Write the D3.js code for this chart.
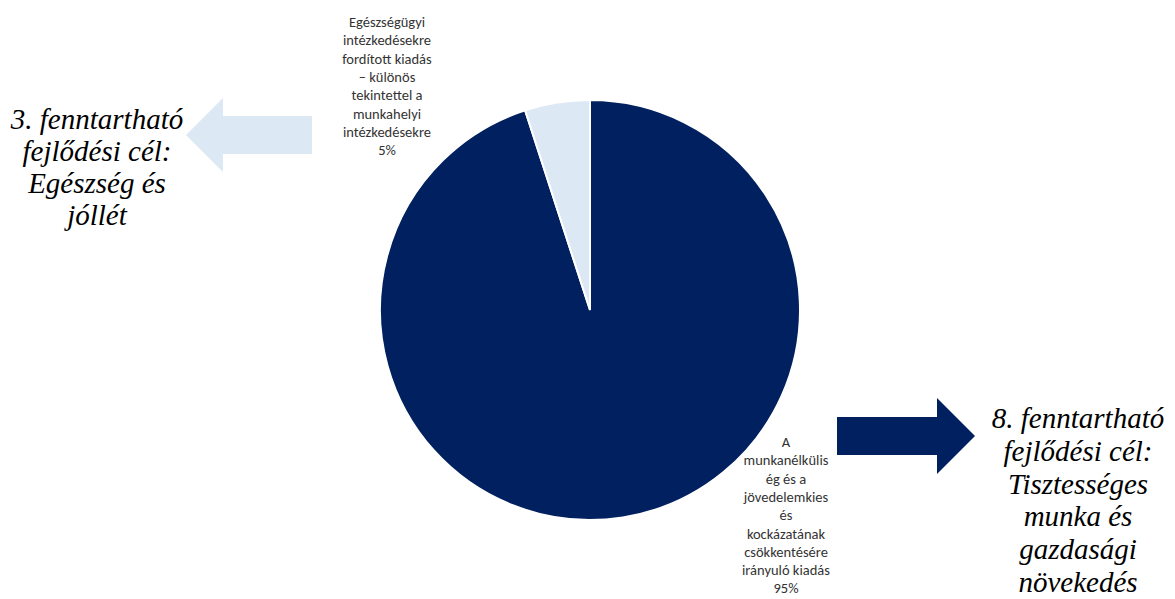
<!DOCTYPE html>
<html>
<head>
<meta charset="utf-8">
<script src="https://cdn.jsdelivr.net/npm/d3@7"></script>
<style>
  html, body { margin: 0; padding: 0; background: #ffffff; }
  svg { display: block; }
</style>
</head>
<body>
<svg id="chart" width="1175" height="599"></svg>
<script>
// ---- data ----
const categories = [
  "A munkanélküliség és a jövedelemkiesés kockázatának csökkentésére irányuló kiadás",
  "Egészségügyi intézkedésekre fordított kiadás – különös tekintettel a munkahelyi intézkedésekre"
];
const values = [95, 5];
const percentLabels = ["95%", "5%"];
const labelLines = [
  ["A", "munkanélkülis", "ég és a", "jövedelemkies", "és", "kockázatának", "csökkentésére", "irányuló kiadás"],
  ["Egészségügyi", "intézkedésekre", "fordított kiadás", "– különös", "tekintettel a", "munkahelyi", "intézkedésekre"]
];
const goalLeft = ["3. fenntartható", "fejlődési cél:", "Egészség és", "jóllét"];
const goalRight = ["8. fenntartható", "fejlődési cél:", "Tisztességes", "munka és", "gazdasági", "növekedés"];
const colors = ["#002060", "#dde8f5"];

// ---- layout ----
const svg = d3.select("#chart");
const cx = 590, cy = 310, r = 210;

const pie = d3.pie().sort(null).value(d => d)(values);
const arc = d3.arc().innerRadius(0).outerRadius(r);

const g = svg.append("g").attr("transform", `translate(${cx},${cy})`);
g.selectAll("path").data(pie).join("path")
  .attr("d", arc)
  .attr("fill", (d, i) => colors[i])
  .attr("stroke", "#ffffff")
  .attr("stroke-width", 2);

// data labels
const labelPos = [{x: 786, y: 447}, {x: 387, y: 27}];
const lh = 18.3;
labelLines.forEach((lines, i) => {
  const all = lines.concat([percentLabels[i]]);
  const t = svg.append("text")
    .attr("text-anchor", "middle")
    .attr("font-family", "Carlito, Calibri, Lato, 'Liberation Sans', sans-serif")
    .attr("font-size", 14.5)
    .attr("fill", "#333333");
  all.forEach((s, k) => {
    t.append("tspan").attr("x", labelPos[i].x).attr("y", labelPos[i].y + k * lh).text(s);
  });
});

// arrows
function arrowPath(tipX, tipY, headBaseX, headHalf, bodyEndX, bodyHalf) {
  const p = d3.path();
  p.moveTo(tipX, tipY);
  p.lineTo(headBaseX, tipY - headHalf);
  p.lineTo(headBaseX, tipY - bodyHalf);
  p.lineTo(bodyEndX, tipY - bodyHalf);
  p.lineTo(bodyEndX, tipY + bodyHalf);
  p.lineTo(headBaseX, tipY + bodyHalf);
  p.lineTo(headBaseX, tipY + headHalf);
  p.closePath();
  return p.toString();
}
svg.append("path").attr("d", arrowPath(186, 135, 223, 37, 312, 19)).attr("fill", colors[1]);
svg.append("path").attr("d", arrowPath(975, 436, 937, 38, 837, 19)).attr("fill", colors[0]);

// goal texts
function goalText(lines, x, y0, step) {
  const t = svg.append("text")
    .attr("text-anchor", "middle")
    .attr("font-family", "'Times New Roman', 'Liberation Serif', Times, serif")
    .attr("font-style", "italic")
    .attr("font-size", 29)
    .attr("fill", "#000000");
  lines.forEach((s, k) => t.append("tspan").attr("x", x).attr("y", y0 + k * step).text(s));
}
goalText(goalLeft, 97, 129, 32);
goalText(goalRight, 1078, 428, 32.8);
</script>
</body>
</html>
